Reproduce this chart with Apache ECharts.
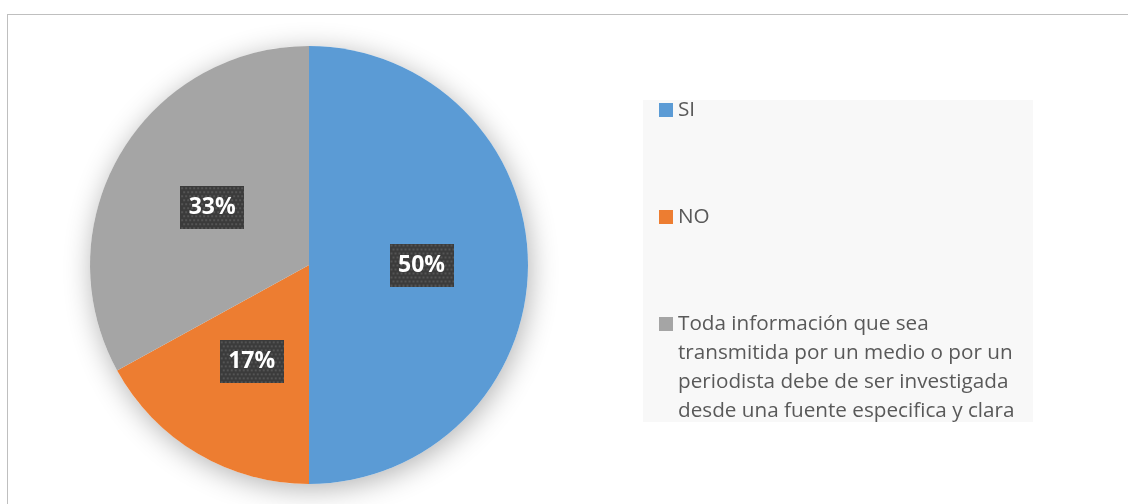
<!DOCTYPE html>
<html>
<head>
<meta charset="utf-8">
<script src="https://cdn.jsdelivr.net/npm/echarts@6/dist/echarts.min.js"></script>
<style>
  html, body { margin: 0; padding: 0; background: #fff; }
  #frame {
    position: absolute; left: 7px; top: 14px; width: 1200px; height: 600px;
    border-top: 1px solid #bfbfbf; border-left: 1px solid #bfbfbf;
  }
  #chart { position: absolute; left: 0; top: 0; width: 1128px; height: 504px; }
</style>
</head>
<body>
<div id="frame"></div>
<div id="chart"></div>
<script>
// categorías y porcentajes
const categorias = [
  'SI',
  'NO',
  'Toda información que sea transmitida por un medio o por un periodista debe de ser investigada desde una fuente especifica y clara'
];
const valores = [50, 17, 33];
const colores = ['#5B9BD5', '#ED7D31', '#A5A5A5'];
// cortes de línea de la leyenda larga
const lineasLeyenda = [
  'Toda información que sea',
  'transmitida por un medio o por un',
  'periodista debe de ser investigada',
  'desde una fuente especifica y clara'
];

// fondo punteado de las etiquetas
const LW = 64, LH = 43;
const patron = document.createElement('canvas');
patron.width = LW; patron.height = LH;
const ctx = patron.getContext('2d');
ctx.fillStyle = '#3b3b3b';
ctx.fillRect(0, 0, LW, LH);
ctx.fillStyle = '#545454';
for (let y = 1; y < LH; y += 4) {
  const off = ((y - 1) / 4) % 2 ? 2 : 0;
  for (let x = 1 + off; x < LW; x += 4) ctx.fillRect(x, y, 2, 2);
}

const chart = echarts.init(document.getElementById('chart'));

const textoLeyenda = {
  fontFamily: 'Open Sans',
  fontSize: 20.7,
  color: '#595959',
  lineHeight: 29
};

const leyendaBase = {
  orient: 'vertical',
  left: 659,
  padding: 0,
  icon: 'rect',
  itemWidth: 14,
  itemHeight: 14,
  selectedMode: false,
  textStyle: textoLeyenda
};

const option = {
  animation: false,
  graphic: [{
    type: 'rect',
    z: -10,
    silent: true,
    shape: { x: 643, y: 100, width: 390, height: 322 },
    style: { fill: '#f8f8f8' }
  }],
  legend: [
    Object.assign({}, leyendaBase, { top: 95.5, data: [categorias[0]] }),
    Object.assign({}, leyendaBase, { top: 202.5, data: [categorias[1]] }),
    Object.assign({}, leyendaBase, {
      top: 222.5,
      data: [categorias[2]],
      // líneas vacías arriba para alinear el cuadro con la primera línea
      formatter: () => '\n\n\n' + lineasLeyenda.join('\n')
    })
  ],
  series: [
    {
      // sombra suave detrás del pastel
      type: 'pie',
      silent: true,
      center: [309, 265],
      radius: 219,
      label: { show: false },
      itemStyle: {
        color: '#ffffff',
        shadowBlur: 28,
        shadowColor: 'rgba(0,0,0,0.3)',
        shadowOffsetX: 2,
        shadowOffsetY: 5
      },
      data: [{ value: 1, name: '_sombra' }]
    },
    {
      type: 'pie',
      center: [309, 265],
      radius: 219,
      startAngle: 90,
      clockwise: true,
      label: {
        show: true,
        position: 'inside',
        formatter: '{d}%',
        color: '#ffffff',
        fontFamily: 'Open Sans',
        fontWeight: 'bold',
        fontSize: 23,
        width: LW,
        lineHeight: LH,
        padding: 0,
        align: 'center',
        backgroundColor: { image: patron },
        shadowColor: 'rgba(0,0,0,0.5)',
        shadowBlur: 7,
        shadowOffsetX: 3,
        shadowOffsetY: 3
      },
      labelLine: { show: false },
      emphasis: { disabled: true },
      itemStyle: { borderWidth: 0 },
      data: categorias.map((c, i) => ({
        name: c,
        value: valores[i],
        itemStyle: { color: colores[i] }
      }))
    }
  ]
};

chart.setOption(option);
</script>
</body>
</html>
